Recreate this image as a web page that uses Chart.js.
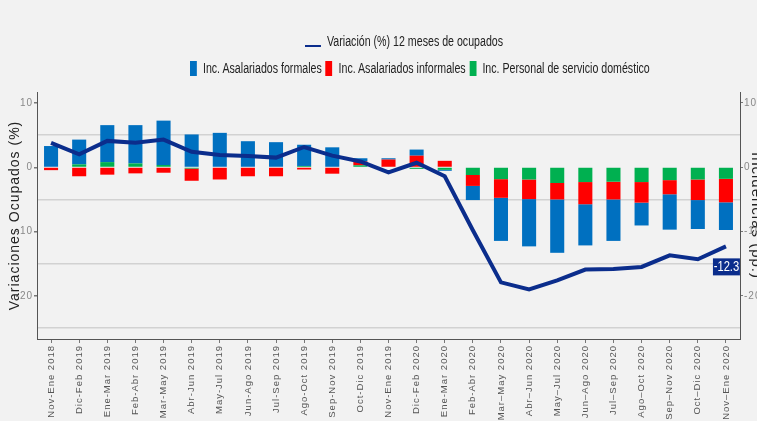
<!DOCTYPE html>
<html>
<head>
<meta charset="utf-8">
<script src="https://cdn.jsdelivr.net/npm/chart.js@4.4.1/dist/chart.umd.min.js"></script>
<style>
  html, body { margin: 0; padding: 0; background: #f2f2f2; }
  #wrap { position: relative; width: 757px; height: 421px; overflow: hidden; }
  #chart { position: absolute; left: 0; top: 0; }
  .legend-row {
    position: absolute;
    display: flex;
    align-items: center;
    white-space: nowrap;
    font-family: "Liberation Sans", Arial, sans-serif;
    font-size: 14px;
    color: #222;
    transform: scaleX(0.76);
    transform-origin: left center;
  }
  .legend-row .item { display: flex; align-items: center; margin-right: 5px; }
  .legend-row .box { width: 9px; height: 15px; margin-right: 8px; }
  .legend-row .line { width: 21px; height: 2px; margin-right: 8px; margin-top: 9px; }
</style>
</head>
<body>
<div id="wrap">
  <canvas id="chart" width="757" height="421"></canvas>
  <div class="legend-row" id="legend-line" style="left:305px; top:33px;"></div>
  <div class="legend-row" id="legend-bars" style="left:190px; top:60px;"></div>
</div>
<script>
const categories = [
  'Nov-Ene 2018', 'Dic-Feb 2019', 'Ene-Mar 2019', 'Feb-Abr 2019', 'Mar-May 2019',
  'Abr-Jun 2019', 'May-Jul 2019', 'Jun-Ago 2019', 'Jul-Sep 2019', 'Ago-Oct 2019',
  'Sep-Nov 2019', 'Oct-Dic 2019', 'Nov-Ene 2019', 'Dic-Feb 2020', 'Ene-Mar 2020',
  'Feb-Abr 2020', 'Mar–May 2020', 'Abr–Jun 2020', 'May–Jul 2020', 'Jun–Ago 2020',
  'Jul–Sep 2020', 'Ago–Oct 2020', 'Sep–Nov 2020', 'Oct–Dic 2020', 'Nov–Ene 2020'
];

// variación 12 meses de ocupados (%)
const variacion = [3.8, 2.0, 4.1, 3.8, 4.3, 2.4, 1.9, 1.75, 1.5, 3.15, 1.8, 0.9, -0.8,
  0.7, -1.4, -9.8, -17.9, -19.0, -17.6, -15.9, -15.8, -15.5, -13.7, -14.3, -12.3];

// incidencias (pp.)
const formales = [3.3, 3.85, 5.75, 5.95, 6.9, 5.1, 5.35, 4.05, 3.9, 3.3, 3.1, 0.5, 0.2,
  0.95, -0.15, -2.2, -6.7, -7.35, -8.3, -6.4, -6.45, -3.55, -5.5, -4.5, -4.3];
const informales = [-0.45, -1.4, -1.15, -0.95, -0.85, -1.9, -1.9, -1.4, -1.4, -0.35, -1.0, 0.6, 1.2,
  1.8, 1.0, -1.7, -2.9, -3.05, -2.55, -3.45, -2.75, -3.2, -2.2, -3.2, -3.65];
const domestico = [0, 0.45, 0.8, 0.6, 0.35, -0.2, 0, 0, 0, 0.2, 0, 0.3, 0,
  -0.25, -0.4, -1.2, -1.85, -1.9, -2.45, -2.3, -2.25, -2.3, -2.0, -1.9, -1.8];

const axisTicks = [10, 0, -10, -20];
const gridValues = [5, -5, -15, -25];
const Y_MIN = -26.7;
const Y_MAX = 11.7;

const lineLabel = 'Variación (%) 12 meses de ocupados';
const barLabels = ['Inc. Asalariados formales', 'Inc. Asalariados informales', 'Inc. Personal de servicio doméstico'];
const LINE_COLOR = '#0b2d8c';
const BLUE = '#0070c0';
const RED = '#ff0000';
const GREEN = '#00b050';
const FONT = '"Liberation Sans", Arial, sans-serif';

// legend in two rows, as in the original
function buildLegend() {
  document.getElementById('legend-line').innerHTML =
    `<div class="item"><span class="line" style="background:${LINE_COLOR}"></span>${lineLabel}</div>`;
  const colors = [BLUE, RED, GREEN];
  document.getElementById('legend-bars').innerHTML = barLabels.map((lbl, i) =>
    `<div class="item"><span class="box" style="background:${colors[i]}"></span>${lbl}</div>`
  ).join('');
}

function setTicks(scale) {
  scale.ticks = [...axisTicks, ...gridValues].sort((a, b) => b - a).map(v => ({ value: v }));
}

// spaced-out axis text like the original
const spacing = {
  id: 'spacing',
  beforeDraw(chart) { chart.ctx.letterSpacing = '1px'; },
  afterDraw(chart) { chart.ctx.letterSpacing = '0px'; }
};

const endLabel = {
  id: 'endLabel',
  afterDatasetsDraw(chart) {
    const meta = chart.getDatasetMeta(0);
    const last = meta.data[meta.data.length - 1];
    const value = variacion[variacion.length - 1];
    const ctx = chart.ctx;
    ctx.save();
    ctx.letterSpacing = '0px';
    ctx.fillStyle = LINE_COLOR;
    ctx.fillRect(last.x - 13, last.y + 12, 27, 17);
    ctx.translate(last.x + 0.5, last.y + 21);
    ctx.scale(0.8, 1);
    ctx.fillStyle = '#fff';
    ctx.font = '14px ' + FONT;
    ctx.textAlign = 'center';
    ctx.textBaseline = 'middle';
    ctx.fillText(value.toFixed(1), 0, 0);
    ctx.restore();
  }
};

buildLegend();

new Chart(document.getElementById('chart'), {
  data: {
    labels: categories,
    datasets: [
      {
        type: 'line',
        label: lineLabel,
        data: variacion,
        yAxisID: 'y',
        borderColor: LINE_COLOR,
        borderWidth: 4,
        pointRadius: 0,
        tension: 0,
        stack: 'line'
      },
      { type: 'bar', label: barLabels[2], data: domestico, backgroundColor: GREEN, yAxisID: 'y2', stack: 'inc' },
      { type: 'bar', label: barLabels[1], data: informales, backgroundColor: RED, yAxisID: 'y2', stack: 'inc' },
      { type: 'bar', label: barLabels[0], data: formales, backgroundColor: BLUE, yAxisID: 'y2', stack: 'inc' }
    ]
  },
  options: {
    responsive: false,
    animation: false,
    layout: { padding: { top: 92, left: 0, right: 0, bottom: 0 } },
    datasets: {
      bar: { categoryPercentage: 1, barPercentage: 0.5 }
    },
    plugins: {
      legend: { display: false },
      tooltip: { enabled: false }
    },
    scales: {
      x: {
        stacked: true,
        offset: true,
        grid: { offset: false, drawOnChartArea: false, drawTicks: true, tickLength: 4, color: '#777' },
        border: { display: true, color: '#555', width: 1 },
        ticks: {
          autoSkip: false,
          minRotation: 90,
          maxRotation: 90,
          padding: 2,
          color: '#555',
          font: { family: FONT, size: 9.5 }
        },
        afterFit(scale) { scale.height = 82; }
      },
      y: {
        position: 'left',
        min: Y_MIN,
        max: Y_MAX,
        afterBuildTicks: setTicks,
        grid: {
          color: ctx => gridValues.includes(ctx.tick.value) ? '#d2d2d2' : 'rgba(0,0,0,0)',
          lineWidth: 1.5,
          drawTicks: true,
          tickLength: 3,
          tickColor: ctx => axisTicks.includes(ctx.tick.value) ? '#777' : 'rgba(0,0,0,0)'
        },
        border: { display: true, color: '#555', width: 1 },
        ticks: {
          padding: 1,
          color: '#888',
          font: { family: FONT, size: 10 },
          callback: v => axisTicks.includes(v) ? v : ''
        },
        title: {
          display: true,
          text: 'Variaciones Ocupados (%)',
          color: '#222',
          padding: { top: 7, bottom: 0 },
          font: { family: FONT, size: 14 }
        },
        afterFit(scale) { scale.width = 37; }
      },
      y2: {
        position: 'right',
        stacked: true,
        min: Y_MIN,
        max: Y_MAX,
        afterBuildTicks: setTicks,
        grid: {
          drawOnChartArea: false,
          drawTicks: true,
          tickLength: 3,
          tickColor: ctx => axisTicks.includes(ctx.tick.value) ? '#777' : 'rgba(0,0,0,0)'
        },
        border: { display: true, color: '#555', width: 1 },
        ticks: {
          padding: 1,
          color: '#888',
          font: { family: FONT, size: 10 },
          callback: v => axisTicks.includes(v) ? v : ''
        },
        title: {
          display: true,
          text: 'Incidencias (pp.)',
          color: '#222',
          padding: { top: -8, bottom: 0 },
          font: { family: FONT, size: 15 }
        },
        afterFit(scale) { scale.width = 17; }
      }
    }
  },
  plugins: [spacing, endLabel]
});
</script>
</body>
</html>
